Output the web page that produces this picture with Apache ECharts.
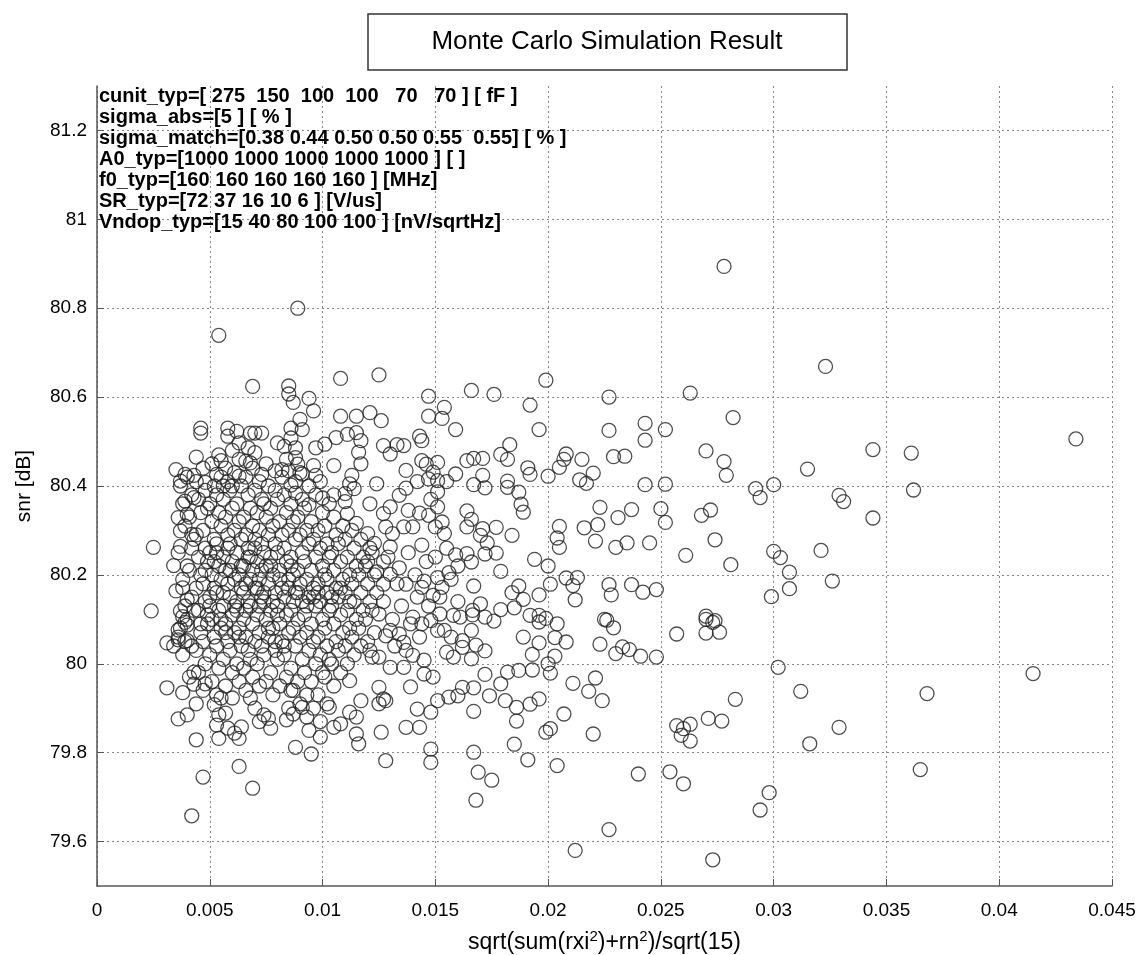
<!DOCTYPE html>
<html><head><meta charset="utf-8">
<script src="https://cdn.jsdelivr.net/npm/echarts@6/dist/echarts.min.js"></script>
<style>html,body{margin:0;padding:0;background:#fff}#c{width:1146px;height:955px}</style>
</head><body><div id="c"></div>
<script>
const titleText = 'Monte Carlo Simulation Result';
const infoLines = [
  'cunit_typ=[ 275  150  100  100   70   70 ] [ fF ]',
  'sigma_abs=[5 ] [ % ]',
  'sigma_match=[0.38 0.44 0.50 0.50 0.55  0.55] [ % ]',
  'A0_typ=[1000 1000 1000 1000 1000 ] [ ]',
  'f0_typ=[160 160 160 160 160 ] [MHz]',
  'SR_typ=[72 37 16 10 6 ] [V/us]',
  'Vndop_typ=[15 40 80 100 100 ] [nV/sqrtHz]'
];
const yTicks = [79.6, 79.8, 80, 80.2, 80.4, 80.6, 80.8, 81, 81.2];

const sparseRight = [[0.0278,80.894],[0.0323,80.669],[0.0282,80.554],[0.0434,80.506],[0.0270,80.479],[0.0278,80.455],[0.0279,80.424],[0.0344,80.482],[0.0361,80.474],[0.0315,80.438],[0.0292,80.394],[0.0294,80.374],[0.0300,80.403],[0.0329,80.379],[0.0331,80.365],[0.0362,80.391],[0.0344,80.328],[0.0272,80.346],[0.0268,80.334],[0.0274,80.279],[0.0281,80.223],[0.0300,80.253],[0.0303,80.239],[0.0307,80.206],[0.0307,80.169],[0.0299,80.151],[0.0321,80.255],[0.0326,80.186],[0.0270,80.100],[0.0273,80.093],[0.0270,80.069],[0.0276,80.071],[0.0302,79.992],[0.0415,79.978],[0.0312,79.938],[0.0283,79.920],[0.0368,79.933],[0.0271,79.877],[0.0277,79.871],[0.0329,79.857],[0.0316,79.820],[0.0365,79.762],[0.0298,79.710],[0.0294,79.671],[0.0273,79.559]];

const midUpper = [[0.0199,80.638],[0.0176,80.606],[0.0166,80.615],[0.0192,80.582],[0.0227,80.600],[0.0263,80.609],[0.0196,80.527],[0.0227,80.525],[0.0243,80.541],[0.0243,80.503],[0.0252,80.527],[0.0183,80.493],[0.0179,80.471],[0.0182,80.460],[0.0171,80.462],[0.0167,80.462],[0.0208,80.472],[0.0207,80.460],[0.0205,80.442],[0.0215,80.460],[0.0220,80.429],[0.0214,80.414],[0.0217,80.406],[0.0191,80.441],[0.0192,80.426],[0.0200,80.422],[0.0229,80.466],[0.0234,80.467],[0.0167,80.403],[0.0172,80.396],[0.0182,80.411],[0.0182,80.397],[0.0187,80.386],[0.0188,80.359],[0.0189,80.341],[0.0243,80.403],[0.0252,80.404],[0.0223,80.352],[0.0231,80.329],[0.0237,80.347],[0.0250,80.349],[0.0252,80.318],[0.0166,80.325],[0.0177,80.307],[0.0184,80.289],[0.0170,80.289],[0.0173,80.272],[0.0177,80.249],[0.0172,80.247],[0.0166,80.229],[0.0205,80.309],[0.0204,80.283],[0.0205,80.262],[0.0216,80.306],[0.0222,80.313],[0.0221,80.276],[0.0230,80.262],[0.0235,80.272],[0.0245,80.272],[0.0261,80.244],[0.0194,80.235],[0.0200,80.220],[0.0179,80.208],[0.0167,80.175],[0.0201,80.179],[0.0208,80.193],[0.0213,80.194],[0.0211,80.176],[0.0212,80.144],[0.0196,80.155],[0.0187,80.175],[0.0184,80.160],[0.0189,80.145],[0.0185,80.126],[0.0170,80.135],[0.0179,80.122],[0.0227,80.178],[0.0228,80.155],[0.0237,80.178],[0.0242,80.161],[0.0248,80.167],[0.0270,80.107],[0.0225,80.100]];

const midLower = [[0.01665,80.120],[0.01665,80.110],[0.0172,80.105],[0.0176,80.096],[0.0192,80.109],[0.0196,80.109],[0.0199,80.102],[0.0196,80.094],[0.0204,80.090],[0.0226,80.098],[0.0229,80.081],[0.0274,80.097],[0.0257,80.067],[0.0189,80.060],[0.0196,80.047],[0.0203,80.059],[0.0208,80.049],[0.0168,80.042],[0.0172,80.029],[0.0193,80.021],[0.0203,80.017],[0.0223,80.044],[0.0233,80.038],[0.0230,80.023],[0.0236,80.032],[0.0241,80.017],[0.0248,80.015],[0.0200,80.000],[0.0187,79.985],[0.0182,79.981],[0.0172,79.976],[0.0193,79.986],[0.0201,79.979],[0.0167,79.946],[0.0174,79.928],[0.0179,79.955],[0.0181,79.917],[0.0186,79.902],[0.0192,79.909],[0.0196,79.921],[0.0211,79.956],[0.0218,79.938],[0.0221,79.968],[0.0224,79.917],[0.0207,79.887],[0.0167,79.893],[0.0186,79.871],[0.0185,79.819],[0.0199,79.846],[0.0201,79.854],[0.0220,79.842],[0.0167,79.801],[0.0169,79.756],[0.0175,79.738],[0.0168,79.693],[0.0191,79.784],[0.0204,79.771],[0.0240,79.752],[0.0227,79.627],[0.0212,79.580],[0.0254,79.757],[0.0260,79.730],[0.0257,79.861],[0.0260,79.854],[0.0263,79.864],[0.0259,79.839],[0.0263,79.826]];

const centerUpper = [[0.0089,80.800],[0.0108,80.642],[0.0125,80.650],[0.0147,80.602],[0.0094,80.597],[0.0096,80.569],[0.0108,80.557],[0.0115,80.557],[0.0121,80.565],[0.0126,80.547],[0.0147,80.557],[0.0153,80.552],[0.0154,80.577],[0.0159,80.527],[0.0090,80.550],[0.0091,80.527],[0.0097,80.486],[0.0101,80.494],[0.0106,80.509],[0.0111,80.516],[0.0115,80.520],[0.0088,80.486],[0.0117,80.502],[0.0116,80.476],[0.0117,80.450],[0.0127,80.491],[0.0130,80.472],[0.0133,80.493],[0.0136,80.491],[0.0143,80.512],[0.0144,80.502],[0.0144,80.457],[0.0146,80.449],[0.0151,80.453],[0.0149,80.431],[0.0164,80.457],[0.0171,80.424],[0.0159,80.427],[0.0096,80.446],[0.0105,80.446],[0.0097,80.424],[0.0089,80.449],[0.0091,80.427],[0.0113,80.424],[0.0112,80.405],[0.0114,80.394],[0.0124,80.405],[0.0110,80.383],[0.0137,80.435],[0.0142,80.410],[0.0137,80.395],[0.0147,80.416],[0.0151,80.412],[0.0151,80.387],[0.0155,80.410],[0.0148,80.370],[0.0121,80.360],[0.0127,80.338],[0.0134,80.379],[0.0130,80.353],[0.0138,80.345],[0.0143,80.339],[0.0147,80.334],[0.0151,80.353],[0.0153,80.319],[0.0150,80.308],[0.0154,80.293],[0.0164,80.344],[0.0164,80.308],[0.0171,80.304],[0.0100,80.373],[0.0105,80.380],[0.0094,80.358],[0.0088,80.384],[0.0086,80.402],[0.0110,80.365],[0.0111,80.338],[0.0115,80.316],[0.0120,80.293],[0.0128,80.308],[0.0131,80.293],[0.0130,80.263],[0.0136,80.308],[0.0140,80.308],[0.0144,80.267],[0.0123,80.271],[0.0120,80.230],[0.0124,80.207],[0.0127,80.230],[0.0155,80.260],[0.0159,80.245],[0.0164,80.248],[0.0156,80.205],[0.0151,80.194],[0.0145,80.186],[0.0137,80.179],[0.0134,80.216],[0.0130,80.201],[0.0127,80.179]];

const centerLower = [[0.0149,80.154],[0.0153,80.172],[0.0144,80.172],[0.0140,80.105],[0.0144,80.090],[0.0148,80.097],[0.0152,80.112],[0.0154,80.075],[0.0151,80.075],[0.0158,80.109],[0.0161,80.105],[0.0166,80.075],[0.0162,80.052],[0.0125,80.112],[0.0130,80.075],[0.0134,80.067],[0.0136,80.048],[0.0128,80.063],[0.0121,80.030],[0.0122,80.015],[0.0125,80.015],[0.0130,79.992],[0.0136,79.992],[0.0140,80.019],[0.0145,80.008],[0.0149,79.970],[0.0145,79.977],[0.0155,80.026],[0.0158,80.015],[0.0162,80.037],[0.0166,80.011],[0.0162,79.947],[0.0160,79.928],[0.0156,79.925],[0.0151,79.917],[0.0148,79.891],[0.0142,79.898],[0.0137,79.857],[0.0143,79.857],[0.0125,79.947],[0.0127,79.921],[0.0125,79.910],[0.0128,79.917],[0.0139,79.948],[0.0112,79.962],[0.0117,79.917],[0.0115,79.880],[0.0112,79.891],[0.0103,79.902],[0.0108,79.865],[0.0105,79.857],[0.0099,79.835],[0.0094,79.850],[0.0093,79.880],[0.0091,79.902],[0.0087,79.887],[0.0086,79.940],[0.0088,79.812],[0.0095,79.797],[0.0115,79.842],[0.0116,79.820],[0.0126,79.846],[0.0128,79.782],[0.0148,79.808],[0.0148,79.778]];

const leftUpper = [[0.0054,80.739],[0.0069,80.624],[0.0085,80.625],[0.0085,80.607],[0.0087,80.588],[0.0046,80.530],[0.0046,80.519],[0.0058,80.530],[0.0062,80.523],[0.0068,80.519],[0.0070,80.519],[0.0073,80.519],[0.0058,80.512],[0.0063,80.497],[0.0067,80.486],[0.0070,80.475],[0.0066,80.456],[0.0068,80.452],[0.0080,80.497],[0.0083,80.489],[0.0086,80.530],[0.0086,80.508],[0.0044,80.465],[0.0055,80.457],[0.0035,80.437],[0.0039,80.426],[0.0043,80.424],[0.0037,80.411],[0.0048,80.408],[0.0053,80.426],[0.0056,80.400],[0.0060,80.400],[0.0063,80.422],[0.0025,80.262],[0.0034,80.221],[0.0035,80.164],[0.0038,80.171],[0.0039,80.366],[0.0043,80.374],[0.0040,80.336],[0.0037,80.299],[0.0042,80.291],[0.0036,80.329],[0.0073,80.426],[0.0079,80.434],[0.0082,80.437],[0.0085,80.434],[0.0088,80.464],[0.0037,80.264],[0.0040,80.144],[0.0038,80.106],[0.0040,80.087],[0.0036,80.076],[0.0036,80.054]];

const leftLower = [[0.0024,80.119],[0.0031,79.946],[0.0038,79.935],[0.0043,79.954],[0.0048,79.955],[0.0036,79.876],[0.0040,79.885],[0.0044,79.829],[0.0052,79.908],[0.0054,79.885],[0.0057,79.889],[0.0053,79.862],[0.0054,79.832],[0.0058,79.855],[0.0061,79.844],[0.0063,79.832],[0.0064,79.858],[0.0070,79.900],[0.0072,79.870],[0.0074,79.885],[0.0077,79.855],[0.0076,79.877],[0.0085,79.900],[0.0084,79.874],[0.0060,79.923],[0.0055,79.923],[0.0068,79.923],[0.0063,79.769],[0.0047,79.745],[0.0069,79.720],[0.0042,79.658],[0.0031,80.047],[0.0034,80.040],[0.0036,80.060],[0.0037,80.119],[0.0039,80.093],[0.0040,80.052],[0.0043,79.981]];

const coreA = [[0.0038,80.02],[0.0037,80.08],[0.0039,80.13],[0.0038,80.19],[0.0036,80.25],[0.0039,80.31],[0.0038,80.36],[0.0037,80.40],[0.0039,80.05],[0.0040,80.22],[0.0041,79.97],[0.0042,80.04],[0.0040,80.10],[0.0042,80.15],[0.0041,80.21],[0.0043,80.28],[0.0041,80.33],[0.0042,80.38],[0.0040,80.42],[0.0043,80.12],[0.0042,80.26],[0.0044,79.91],[0.0045,79.98],[0.0044,80.03],[0.0046,80.07],[0.0045,80.12],[0.0044,80.17],[0.0046,80.20],[0.0045,80.24],[0.0044,80.29],[0.0046,80.34],[0.0045,80.37],[0.0044,80.41],[0.0046,80.09],[0.0047,79.94],[0.0048,80.00],[0.0047,80.05],[0.0049,80.09],[0.0048,80.14],[0.0047,80.18],[0.0049,80.23],[0.0048,80.26],[0.0047,80.30],[0.0049,80.35],[0.0048,80.39],[0.0047,80.44],[0.0049,80.11],[0.0048,80.21],[0.0051,79.96],[0.0050,80.02],[0.0052,80.06],[0.0051,80.10],[0.0050,80.13],[0.0052,80.17],[0.0051,80.20],[0.0050,80.25],[0.0052,80.28],[0.0051,80.32],[0.0050,80.36],[0.0052,80.40],[0.0051,80.45],[0.0050,80.15],[0.0052,80.23],[0.0053,79.93],[0.0054,79.99],[0.0053,80.04],[0.0055,80.08],[0.0054,80.12],[0.0053,80.16],[0.0055,80.19],[0.0054,80.22],[0.0053,80.27],[0.0055,80.31],[0.0054,80.34],[0.0053,80.38],[0.0055,80.42],[0.0054,80.47],[0.0055,80.10],[0.0053,80.25],[0.0057,79.95],[0.0056,80.01],[0.0058,80.05],[0.0057,80.09],[0.0056,80.13],[0.0058,80.18],[0.0057,80.21],[0.0056,80.24],[0.0058,80.29],[0.0057,80.33],[0.0056,80.37],[0.0058,80.41],[0.0057,80.44],[0.0056,80.16],[0.0058,80.26],[0.0057,80.07]];

const coreB = [[0.0060,79.98],[0.0059,80.03],[0.0061,80.07],[0.0060,80.11],[0.0059,80.15],[0.0061,80.19],[0.0060,80.23],[0.0059,80.27],[0.0061,80.30],[0.0060,80.35],[0.0059,80.39],[0.0061,80.43],[0.0060,80.48],[0.0061,80.13],[0.0059,80.21],[0.0063,79.96],[0.0062,80.00],[0.0064,80.04],[0.0063,80.08],[0.0062,80.12],[0.0064,80.17],[0.0063,80.20],[0.0062,80.25],[0.0064,80.28],[0.0063,80.32],[0.0062,80.36],[0.0064,80.40],[0.0063,80.46],[0.0062,80.14],[0.0064,80.22],[0.0063,80.06],[0.0066,79.94],[0.0065,79.99],[0.0067,80.03],[0.0066,80.06],[0.0065,80.10],[0.0067,80.14],[0.0066,80.18],[0.0065,80.22],[0.0067,80.26],[0.0066,80.29],[0.0065,80.33],[0.0067,80.38],[0.0066,80.42],[0.0065,80.16],[0.0067,80.24],[0.0066,80.12],[0.0069,79.97],[0.0068,80.01],[0.0070,80.05],[0.0069,80.09],[0.0068,80.13],[0.0070,80.17],[0.0069,80.21],[0.0068,80.24],[0.0070,80.28],[0.0069,80.31],[0.0068,80.35],[0.0070,80.39],[0.0069,80.44],[0.0068,80.19],[0.0070,80.26],[0.0072,79.95],[0.0071,80.00],[0.0073,80.04],[0.0072,80.07],[0.0071,80.11],[0.0073,80.15],[0.0072,80.19],[0.0071,80.23],[0.0073,80.27],[0.0072,80.30],[0.0071,80.34],[0.0073,80.37],[0.0072,80.41],[0.0071,80.17],[0.0073,80.21],[0.0072,80.13],[0.0075,79.96],[0.0074,80.02],[0.0076,80.06],[0.0075,80.10],[0.0074,80.14],[0.0076,80.18],[0.0075,80.22],[0.0074,80.25],[0.0076,80.29],[0.0075,80.33],[0.0074,80.36],[0.0076,80.40],[0.0075,80.45],[0.0074,80.16],[0.0076,80.08],[0.0078,79.93],[0.0077,79.98],[0.0079,80.03],[0.0078,80.08],[0.0077,80.12],[0.0079,80.16],[0.0078,80.20],[0.0077,80.24],[0.0079,80.27],[0.0078,80.31],[0.0077,80.35],[0.0079,80.39],[0.0078,80.14],[0.0077,80.22],[0.0079,80.05],[0.0081,79.95],[0.0080,80.01],[0.0082,80.05],[0.0081,80.09],[0.0080,80.13],[0.0082,80.17],[0.0081,80.21],[0.0080,80.25],[0.0082,80.29],[0.0081,80.32],[0.0080,80.37],[0.0082,80.42],[0.0081,80.19],[0.0080,80.11]];

const coreC = [[0.0084,79.97],[0.0083,80.02],[0.0085,80.07],[0.0084,80.11],[0.0083,80.15],[0.0085,80.19],[0.0084,80.23],[0.0083,80.26],[0.0085,80.30],[0.0084,80.34],[0.0083,80.38],[0.0084,80.46],[0.0085,80.17],[0.0083,80.04],[0.0087,79.94],[0.0086,79.99],[0.0088,80.04],[0.0087,80.08],[0.0086,80.12],[0.0088,80.16],[0.0087,80.20],[0.0086,80.24],[0.0088,80.28],[0.0087,80.32],[0.0086,80.36],[0.0088,80.41],[0.0087,80.14],[0.0086,80.22],[0.0090,79.91],[0.0089,79.96],[0.0091,80.01],[0.0090,80.06],[0.0089,80.10],[0.0091,80.14],[0.0090,80.18],[0.0089,80.21],[0.0091,80.25],[0.0090,80.29],[0.0089,80.33],[0.0091,80.37],[0.0090,80.43],[0.0089,80.16],[0.0093,79.93],[0.0092,79.98],[0.0094,80.03],[0.0093,80.07],[0.0092,80.11],[0.0094,80.15],[0.0093,80.19],[0.0092,80.23],[0.0094,80.27],[0.0093,80.30],[0.0092,80.35],[0.0094,80.40],[0.0093,80.13],[0.0096,79.90],[0.0095,79.96],[0.0097,80.00],[0.0096,80.05],[0.0095,80.09],[0.0097,80.13],[0.0096,80.17],[0.0095,80.21],[0.0097,80.24],[0.0096,80.28],[0.0095,80.32],[0.0097,80.38],[0.0096,80.15],[0.0099,79.87],[0.0098,79.93],[0.0100,79.98],[0.0099,80.02],[0.0098,80.06],[0.0100,80.10],[0.0099,80.14],[0.0098,80.18],[0.0100,80.22],[0.0099,80.26],[0.0098,80.30],[0.0100,80.34],[0.0099,80.41],[0.0098,80.16],[0.0102,79.91],[0.0101,79.97],[0.0103,80.01],[0.0102,80.04],[0.0101,80.08],[0.0103,80.12],[0.0102,80.16],[0.0101,80.20],[0.0103,80.24],[0.0102,80.27],[0.0101,80.31],[0.0103,80.36],[0.0102,80.19],[0.0105,79.95],[0.0104,80.00],[0.0106,80.05],[0.0105,80.09],[0.0104,80.13],[0.0106,80.17],[0.0105,80.21],[0.0104,80.25],[0.0106,80.29],[0.0105,80.33],[0.0104,80.15],[0.0108,79.98],[0.0107,80.03],[0.0109,80.07],[0.0108,80.11],[0.0107,80.15],[0.0109,80.19],[0.0108,80.23],[0.0107,80.27],[0.0109,80.31],[0.0108,80.17],[0.0111,80.00],[0.0110,80.04],[0.0112,80.08],[0.0111,80.12],[0.0110,80.16],[0.0112,80.20],[0.0111,80.24],[0.0110,80.28],[0.0112,80.14],[0.0114,80.02],[0.0113,80.06],[0.0115,80.10],[0.0114,80.14],[0.0113,80.18],[0.0115,80.22],[0.0114,80.26],[0.0113,80.30],[0.0117,80.04],[0.0116,80.08],[0.0118,80.12],[0.0117,80.16],[0.0116,80.20],[0.0118,80.24],[0.0117,80.28],[0.0120,80.05],[0.0119,80.10],[0.0121,80.14],[0.0120,80.18],[0.0119,80.22],[0.0121,80.26],[0.0123,80.07],[0.0122,80.12],[0.0124,80.16],[0.0123,80.20],[0.0122,80.25]];

const band = [[0.0127,80.14],[0.0131,80.10],[0.0129,80.24],[0.0133,80.18],[0.0135,80.13],[0.0138,80.25],[0.0139,80.09],[0.0141,80.20],[0.0142,80.15],[0.0146,80.23],[0.0147,80.13],[0.0150,80.24],[0.0152,80.15],[0.0157,80.19],[0.0160,80.14],[0.0132,80.04],[0.0137,80.03],[0.0143,80.06],[0.0157,80.06],[0.0160,80.22]];

const allPoints = [].concat(sparseRight, midUpper, midLower, centerUpper, centerLower, leftUpper, leftLower, coreA, coreB, coreC, band);

const FONT = '"Liberation Sans", Arial, Helvetica, sans-serif';
const chart = echarts.init(document.getElementById('c'), null, {renderer: 'canvas'});
chart.setOption({
  animation: false,
  backgroundColor: '#fff',
  grid: {left: 97, right: 34, top: 86, bottom: 69, containLabel: false, outerBoundsMode: 'none'},
  xAxis: {
    type: 'value', min: 0, max: 0.045, interval: 0.005,
    name: 'sqrt(sum(rxi{sup|2})+rn{sup|2})/sqrt(15)',
    nameLocation: 'middle', nameGap: 43,
    nameTextStyle: {fontFamily: FONT, fontSize: 23, color: '#000', lineHeight: 28,
      rich: {sup: {fontFamily: FONT, fontSize: 15, color: '#000', verticalAlign: 'top', lineHeight: 28}}},
    axisLine: {show: true, onZero: false, lineStyle: {color: '#555', width: 1.5}},
    axisTick: {show: true, inside: true, length: 7, lineStyle: {color: '#555'}},
    axisLabel: {fontFamily: FONT, fontSize: 19, color: '#000', margin: 15,
      formatter: v => String(+v.toFixed(3))},
    splitLine: {show: true, lineStyle: {color: '#888', type: [2, 3], width: 1}}
  },
  yAxis: {
    type: 'value', min: 79.5, max: 81.3,
    name: 'snr [dB]', nameLocation: 'middle', nameGap: 62, nameRotate: 90,
    nameTextStyle: {fontFamily: FONT, fontSize: 21, color: '#000'},
    axisLine: {show: true, onZero: false, lineStyle: {color: '#555', width: 1.5}},
    axisTick: {show: true, inside: true, length: 7, customValues: yTicks, lineStyle: {color: '#555'}},
    axisLabel: {fontFamily: FONT, fontSize: 19, color: '#000', margin: 10, customValues: yTicks,
      formatter: v => String(+(+v).toFixed(1))},
    splitLine: {show: true, lineStyle: {color: '#888', type: [2, 3], width: 1}}
  },
  series: [{
    type: 'scatter',
    data: allPoints,
    symbol: 'circle',
    symbolSize: 14,
    itemStyle: {color: 'rgba(0,0,0,0)', borderColor: '#222', borderWidth: 1.3},
    emphasis: {disabled: true}
  }],
  graphic: [
    {type: 'rect', shape: {x: 368, y: 14, width: 479, height: 56},
     style: {fill: '#fff', stroke: '#333', lineWidth: 1.5}, z: 10},
    {type: 'text', x: 607, y: 42, z: 11,
     style: {text: titleText, font: '26px ' + FONT, fill: '#000', align: 'center', verticalAlign: 'middle'}},
    {type: 'text', x: 99, y: 86, z: 11,
     style: {text: infoLines.join('\n'), font: 'bold 20px ' + FONT, lineHeight: 21, fill: '#000'}}
  ]
});
</script>
</body></html>
